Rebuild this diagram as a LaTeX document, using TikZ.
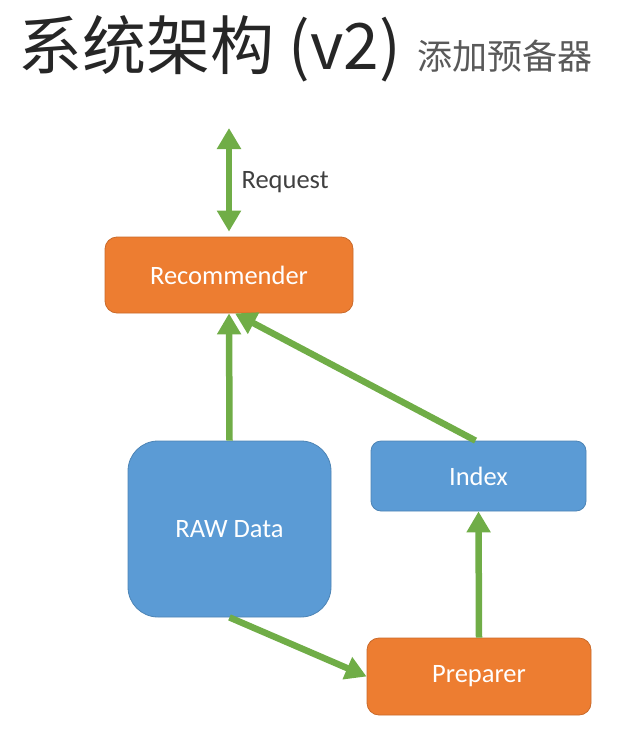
\documentclass[tikz,border=0pt]{standalone}
\usepackage{fontspec}
\setmainfont{Carlito}
\newfontfamily\cjk{Noto Sans CJK SC}
\usetikzlibrary{arrows.meta}
\definecolor{boxorange}{HTML}{ED7D31}
\definecolor{boxblue}{HTML}{5B9BD5}
\definecolor{flowgreen}{HTML}{70AD47}
\definecolor{titlegray}{HTML}{262626}
\definecolor{subgray}{HTML}{595959}
\definecolor{reqgray}{HTML}{404040}
\begin{document}
\begin{tikzpicture}[x=1pt, y=-1pt,
  box/.style={inner sep=0pt, text=white, font=\fontsize{26.5}{30}\selectfont, line width=0.8pt},
  orangebox/.style={box, fill=boxorange, draw=boxorange!85!black},
  bluebox/.style={box, fill=boxblue, draw=boxblue!85!black},
  flow/.style={flowgreen, line width=6.5pt, -{Triangle[width=23pt, length=21pt]}}]
\useasboundingbox (0,0) rectangle (640,739);

\node[anchor=base west, inner sep=0pt, text=titlegray] (title) at (18,69) {\cjk\fontsize{64}{70}\selectfont 系统架构 (v2)};
\node[anchor=base west, inner sep=0pt, text=subgray] (subtitle) at (417,69) {\cjk\fontsize{35}{40}\selectfont 添加预备器};

\node[orangebox, rounded corners=12pt, minimum width=248pt, minimum height=76pt] (rec) at (229,275) {Recommender};
\node[bluebox, rounded corners=30pt, minimum width=203pt, minimum height=176pt] (raw) at (229.5,529) {RAW Data};
\node[bluebox, rounded corners=10pt, minimum width=215pt, minimum height=70pt] (index) at (478.5,476) {Index};
\node[orangebox, rounded corners=12pt, minimum width=224pt, minimum height=77pt] (prep) at (479,676.5) {Preparer};

\coordinate (req) at (229,128);
\draw[flow, {Triangle[width=23pt, length=21pt]}-{Triangle[width=23pt, length=21pt]}, shorten >=5pt] (req) -- (rec.north)
  node[midway, right=6pt, text=reqgray, font=\fontsize{26.5}{30}\selectfont] (reqlabel) {Request};
\draw[flow] (raw.north) -- (rec.south);
\draw[flow] ([xshift=-3pt]index.north) -- ([xshift=6pt]rec.south);
\draw[flow] (raw.south) -- (prep.west);
\draw[flow] (prep.north) -- (index.south);
\end{tikzpicture}
\end{document}
